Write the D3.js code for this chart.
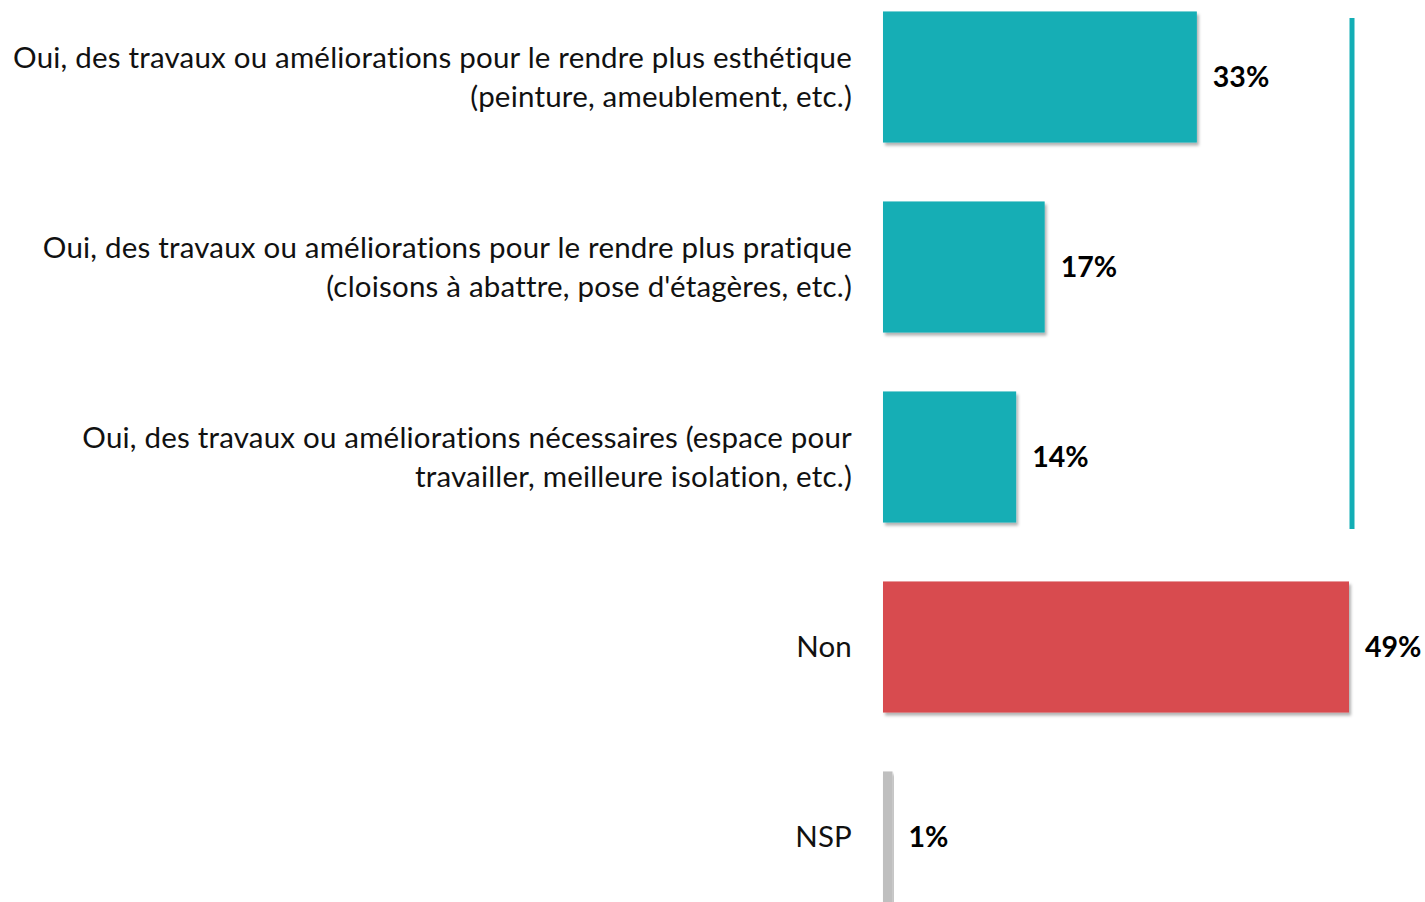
<!DOCTYPE html>
<html>
<head>
<meta charset="utf-8">
<script src="https://cdn.jsdelivr.net/npm/d3@7"></script>
<style>
  body { margin: 0; background: #fff; }
  text { font-family: Lato, "Open Sans", sans-serif; }
</style>
</head>
<body>
<div id="chart"></div>
<script>
var labels = [
  ["Oui, des travaux ou améliorations pour le rendre plus esthétique", "(peinture, ameublement, etc.)"],
  ["Oui, des travaux ou améliorations pour le rendre plus pratique", "(cloisons à abattre, pose d'étagères, etc.)"],
  ["Oui, des travaux ou améliorations nécessaires (espace pour", "travailler, meilleure isolation, etc.)"],
  ["Non"],
  ["NSP"]
];
var values = [33, 17, 14, 49, 1];
var colors = ["#13aeb5", "#13aeb5", "#13aeb5", "#d84c4f", "#bfbfbf"];

var W = 1425, H = 902;
var svg = d3.select("#chart").append("svg")
    .attr("width", W)
    .attr("height", H);

var defs = svg.append("defs");
var f = defs.append("filter").attr("id", "shadow")
    .attr("x", "-5%").attr("y", "-5%").attr("width", "115%").attr("height", "115%");
f.append("feDropShadow")
    .attr("dx", 2).attr("dy", 3).attr("stdDeviation", 1.5)
    .attr("flood-color", "#000").attr("flood-opacity", 0.3);

var x = d3.scaleLinear().domain([0, 49]).range([883, 1349]);
var y = d3.scaleBand().domain(d3.range(values.length))
    .range([-18, 932]).paddingInner(0.31).paddingOuter(0.155);

var g = svg.selectAll(".bar")
    .data(values)
    .enter().append("g")
        .attr("class", "bar");

g.append("rect")
    .attr("x", x(0))
    .attr("y", function(d, i) { return y(i); })
    .attr("width", function(d) { return x(d) - x(0); })
    .attr("height", y.bandwidth())
    .attr("fill", function(d, i) { return colors[i]; })
    .attr("filter", "url(#shadow)");

g.append("text")
    .attr("x", function(d) { return x(d) + 16; })
    .attr("y", function(d, i) { return y(i) + y.bandwidth() / 2; })
    .attr("dy", "0.35em")
    .attr("font-size", 28.5)
    .attr("font-weight", "bold")
    .attr("fill", "#000")
    .text(function(d) { return d + "%"; });

var lineH = 39;
g.append("text")
    .attr("text-anchor", "end")
    .attr("font-size", 29.5)
    .attr("letter-spacing", 0.2)
    .attr("fill", "#111")
    .each(function(d, i) {
        var lines = labels[i];
        var cy = y(i) + y.bandwidth() / 2;
        var y0 = cy - (lines.length - 1) * lineH / 2;
        d3.select(this).selectAll("tspan")
            .data(lines)
            .enter().append("tspan")
                .attr("x", 852)
                .attr("y", function(t, k) { return y0 + k * lineH; })
                .attr("dy", "0.35em")
                .text(function(t) { return t; });
    });

// bracket line spanning the three "Oui" bars
svg.append("line")
    .attr("x1", 1352).attr("x2", 1352)
    .attr("y1", 18).attr("y2", 529)
    .attr("stroke", "#13aeb5")
    .attr("stroke-width", 5);
</script>
</body>
</html>
